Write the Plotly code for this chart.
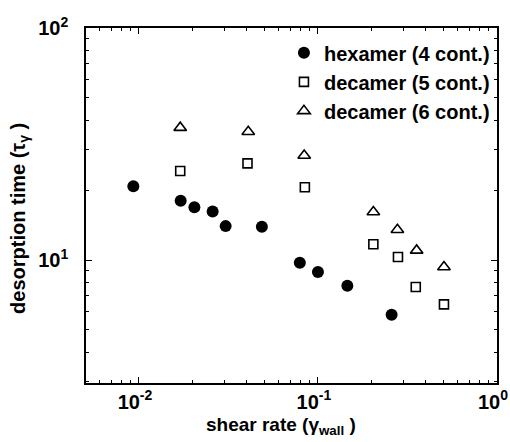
import plotly.graph_objects as go

# hexamer (4 cont.)
hex_x = [0.0093, 0.0171, 0.0204, 0.0258, 0.0305, 0.0486, 0.0792, 0.100, 0.146, 0.258]
hex_y = [20.8, 18.0, 16.9, 16.2, 14.0, 13.9, 9.73, 8.88, 7.75, 5.81]
# decamer (5 cont.)
dec5_x = [0.0170, 0.0404, 0.0845, 0.204, 0.280, 0.352, 0.506]
dec5_y = [24.2, 26.1, 20.6, 11.7, 10.3, 7.65, 6.44]
# decamer (6 cont.)
dec6_x = [0.0170, 0.0408, 0.0838, 0.204, 0.278, 0.356, 0.506]
dec6_y = [37.2, 35.7, 28.2, 16.1, 13.5, 11.0, 9.33]

names = ["hexamer (4 cont.)", "decamer (5 cont.)", "decamer (6 cont.)"]

x_tickvals = [0.01, 0.1, 1]
x_ticktext = ["10<sup>-2</sup>", "10<sup>-1</sup>", "10<sup>0</sup>"]
y_tickvals = [10, 100]
y_ticktext = ["10<sup>1</sup>", "10<sup>2</sup>"]

x_minor = [m * 10.0 ** e for e in (-3, -2, -1) for m in range(2, 10)]
y_minor = [m * 10.0 ** e for e in (0, 1) for m in range(2, 10)]

x_title = "shear rate (γ<sub>wall</sub> )"
y_title = "desorption time (τ<sub>γ</sub> )"

FONT = "Liberation Sans, Arial, sans-serif"

fig = go.Figure()
fig.add_trace(go.Scatter(x=hex_x, y=hex_y, mode="markers", name=names[0],
                         marker=dict(symbol="circle", size=12, color="black")))
fig.add_trace(go.Scatter(x=dec5_x, y=dec5_y, mode="markers", name=names[1],
                         marker=dict(symbol="square-open", size=9, color="black",
                                     line=dict(width=1.6, color="black"))))
fig.add_trace(go.Scatter(x=dec6_x, y=dec6_y, mode="markers", name=names[2],
                         marker=dict(symbol="triangle-up-open", size=11, color="black",
                                     line=dict(width=1.6, color="black"))))


def axis_common(tv, tt, mv):
    return dict(
        type="log", tickmode="array", tickvals=tv, ticktext=tt,
        showline=True, linecolor="black", linewidth=1.5, mirror="ticks",
        ticks="inside", ticklen=6, tickwidth=1.2, tickcolor="black",
        showgrid=False, zeroline=False, ticklabeloverflow="allow",
        automargin=False,
        minor=dict(tickmode="array", tickvals=mv, ticks="inside", ticklen=3,
                   tickwidth=1, tickcolor="black", showgrid=False),
        tickfont=dict(family=FONT, size=20, color="black", weight="bold"),
    )


fig.update_layout(
    width=510, height=442,
    margin=dict(l=86, r=13, t=28, b=59),
    paper_bgcolor="white", plot_bgcolor="white",
    font=dict(family=FONT, size=19, color="black", weight="bold"),
    xaxis=dict(range=[-2.296, 0.0005], ticklabelshift=-4,
               **axis_common(x_tickvals, x_ticktext, x_minor)),
    yaxis=dict(range=[0.47, 2], ticklabelstandoff=12,
               **axis_common(y_tickvals, y_ticktext, y_minor)),
    legend=dict(x=0.995, xanchor="right", y=0.985, yanchor="top",
                bgcolor="rgba(0,0,0,0)",
                font=dict(family=FONT, size=20, weight="bold"),
                itemwidth=30, tracegroupgap=0),
    showlegend=True,
    annotations=[
        dict(text=x_title, xref="paper", yref="paper", x=0.4745, y=-0.12,
             xanchor="center", yanchor="middle", showarrow=False,
             font=dict(family=FONT, size=19, weight="bold", color="black")),
        dict(text=y_title, xref="paper", yref="paper", x=-0.1606, y=0.465,
             xanchor="center", yanchor="middle", textangle=-90, showarrow=False,
             font=dict(family=FONT, size=20, weight="bold", color="black")),
    ],
)

fig.write_html("out.html")
